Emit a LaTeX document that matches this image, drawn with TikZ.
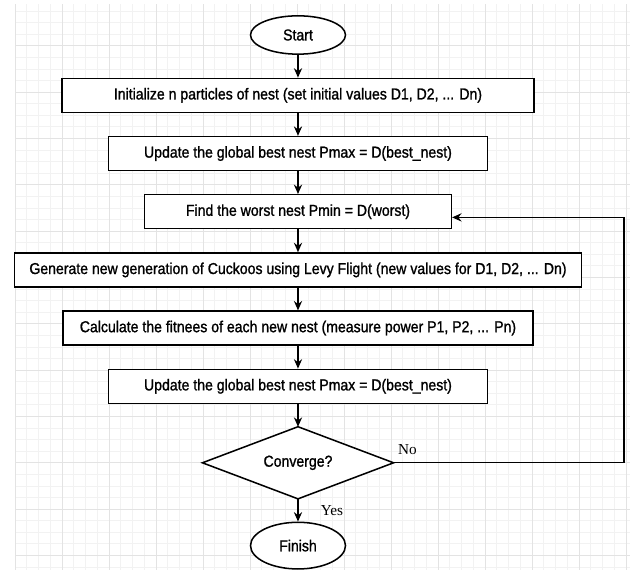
\documentclass[tikz,border=0pt]{standalone}
\usepackage{fontspec}
\setmainfont[FakeStretch=0.89,FakeBold=1.2]{Liberation Sans}
\newfontfamily\serifnote{Liberation Serif}
\usetikzlibrary{arrows.meta,positioning,shapes.geometric}

\definecolor{gridmajor}{gray}{0.89}
\definecolor{gridminor}{gray}{0.95}

\begin{document}
\begin{tikzpicture}[
		node distance=0.68cm,
		every node/.style={font=\fontsize{13.5}{15}\selectfont},
		procbox/.style={draw, rectangle, line width=1.3pt, minimum height=1.02cm, fill=white},
		terminal/.style={draw, ellipse, line width=1.3pt, minimum width=2.85cm, fill=white},
		decision/.style={rectangle, minimum width=5.72cm, minimum height=2.15cm},
		arr/.style={line width=1.1pt, -{Stealth[length=8pt,width=7pt]}},
		yesno/.style={font=\serifnote\fontsize{13}{15}\selectfont}
	]
		\useasboundingbox (0,0) rectangle (18.9,17.1);
		% background grid
		\begin{scope}[shift={(1.86,1.83)}]
			\draw[gridminor, line width=0.5pt, xstep=0.3525, ystep=0.3475] (-1.41,-1.83) grid (17.04,15.15);
			\draw[gridmajor, line width=0.6pt, xstep=1.41, ystep=1.39] (-1.41,-1.83) grid (17.04,15.15);
		\end{scope}

		\node[terminal, minimum height=1.15cm] (start) at (8.94,16.05) {Start};
		\node[procbox, minimum width=14.15cm, below=of start] (init) {Initialize n particles of nest (set initial values D1, D2, ... Dn)};
		\node[procbox, minimum width=11.38cm, below=of init] (best1) {Update the global best nest Pmax = D(best\_nest)};
		\node[procbox, minimum width=9.2cm, below=of best1] (worst) {Find the worst nest Pmin = D(worst)};
		\node[procbox, minimum width=17.0cm, below=of worst] (levy) {Generate new generation of Cuckoos using Levy Flight (new values for D1, D2, ... Dn)};
		\node[procbox, minimum width=14.09cm, below=of levy] (fit) {Calculate the fitnees of each new nest (measure power P1, P2, ... Pn)};
		\node[procbox, minimum width=11.36cm, below=of fit] (best2) {Update the global best nest Pmax = D(best\_nest)};
		\node[decision, below=of best2] (conv) {};
		% diamond outline on the corners of conv
		\filldraw[fill=white, line width=1.3pt] (conv.north) -- (conv.east) -- (conv.south) -- (conv.west) -- cycle;
		\node at (conv) {Converge?};
		\node[terminal, minimum height=1.4cm, below=of conv] (finish) {Finish};

		\draw[arr] (start) -- (init);
		\draw[arr] (init) -- (best1);
		\draw[arr] (best1) -- (worst);
		\draw[arr] (worst) -- (levy);
		\draw[arr] (levy) -- (fit);
		\draw[arr] (fit) -- (best2);
		\draw[arr] (best2) -- (conv);
		\draw[arr] (conv) -- node[yesno, right=0.55cm] {Yes} (finish);

		% loop back when not converged
		\coordinate (back) at (18.72,0);
		\draw[arr] (conv.east) -- node[yesno, pos=0, above right, yshift=3pt] {No} (conv.east -| back) |- ([yshift=-0.17cm]worst.east);
	\end{tikzpicture}
\end{document}
